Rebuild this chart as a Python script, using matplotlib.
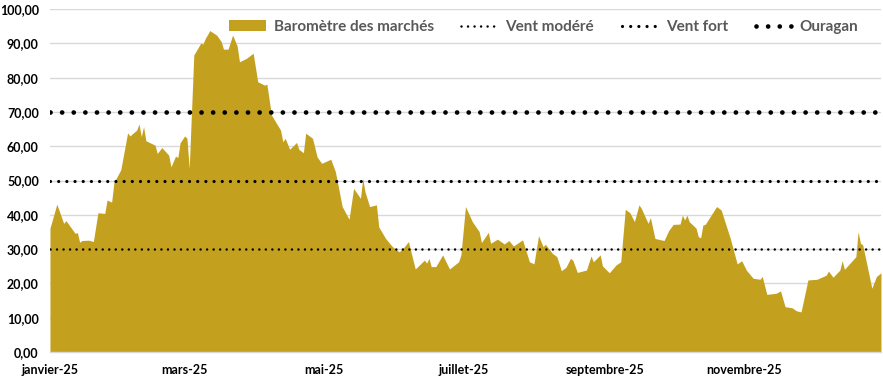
import matplotlib
matplotlib.use("Agg")
import matplotlib.pyplot as plt
from matplotlib.patches import Patch
from matplotlib.lines import Line2D
import pandas as pd

plt.rcParams['font.family'] = ['Lato', 'DejaVu Sans']

# ---- data ----
dates = [
    "2025-01-01", "2025-01-04", "2025-01-07", "2025-01-08", "2025-01-12", "2025-01-13",
    "2025-01-14", "2025-01-15", "2025-01-18", "2025-01-20", "2025-01-22", "2025-01-25",
    "2025-01-26", "2025-01-28", "2025-01-29", "2025-02-01", "2025-02-04", "2025-02-05",
    "2025-02-08", "2025-02-09", "2025-02-10", "2025-02-11", "2025-02-12", "2025-02-16",
    "2025-02-17", "2025-02-19", "2025-02-22", "2025-02-23", "2025-02-25", "2025-02-26",
    "2025-02-27", "2025-03-01", "2025-03-02", "2025-03-03", "2025-03-05", "2025-03-08",
    "2025-03-09", "2025-03-10", "2025-03-12", "2025-03-15", "2025-03-17", "2025-03-18",
    "2025-03-20", "2025-03-22", "2025-03-24", "2025-03-25", "2025-03-28", "2025-03-31",
    "2025-04-02", "2025-04-05", "2025-04-06", "2025-04-08", "2025-04-12", "2025-04-13",
    "2025-04-14", "2025-04-16", "2025-04-19", "2025-04-20", "2025-04-22", "2025-04-23",
    "2025-04-26", "2025-04-28", "2025-04-30", "2025-05-04", "2025-05-06", "2025-05-09",
    "2025-05-12", "2025-05-14", "2025-05-17", "2025-05-18", "2025-05-19", "2025-05-21",
    "2025-05-24", "2025-05-25", "2025-05-28", "2025-05-31", "2025-06-03", "2025-06-05",
    "2025-06-07", "2025-06-10", "2025-06-14", "2025-06-15", "2025-06-16", "2025-06-17",
    "2025-06-19", "2025-06-22", "2025-06-25", "2025-06-29", "2025-06-30", "2025-07-02",
    "2025-07-05", "2025-07-08", "2025-07-09", "2025-07-12", "2025-07-13", "2025-07-16",
    "2025-07-19", "2025-07-21", "2025-07-23", "2025-07-27", "2025-07-30", "2025-08-01",
    "2025-08-03", "2025-08-05", "2025-08-06", "2025-08-09", "2025-08-11", "2025-08-13",
    "2025-08-15", "2025-08-17", "2025-08-18", "2025-08-20", "2025-08-24", "2025-08-26",
    "2025-08-27", "2025-08-30", "2025-08-31", "2025-09-03", "2025-09-06", "2025-09-08",
    "2025-09-10", "2025-09-12", "2025-09-14", "2025-09-16", "2025-09-17", "2025-09-20",
    "2025-09-21", "2025-09-23", "2025-09-27", "2025-09-29", "2025-10-01", "2025-10-04",
    "2025-10-05", "2025-10-06", "2025-10-07", "2025-10-08", "2025-10-11", "2025-10-12",
    "2025-10-13", "2025-10-14", "2025-10-15", "2025-10-20", "2025-10-22", "2025-10-26",
    "2025-10-29", "2025-10-31", "2025-11-02", "2025-11-05", "2025-11-08", "2025-11-09",
    "2025-11-11", "2025-11-15", "2025-11-17", "2025-11-19", "2025-11-22", "2025-11-24",
    "2025-11-26", "2025-11-29", "2025-12-03", "2025-12-07", "2025-12-08", "2025-12-10",
    "2025-12-13", "2025-12-14", "2025-12-15", "2025-12-20", "2025-12-21", "2025-12-22",
    "2025-12-23", "2025-12-27", "2025-12-29", "2025-12-31",
]
barometre = [
    36.1, 43.1, 37.5, 38.3, 34.6, 34.8,
    32.0, 32.5, 32.6, 32.2, 40.6, 40.4,
    44.3, 43.7, 49.4, 53.1, 63.9, 63.0,
    64.7, 66.5, 62.8, 65.7, 61.6, 60.3,
    57.9, 59.6, 57.4, 54.0, 57.1, 56.7,
    61.0, 63.0, 62.3, 53.5, 86.6, 90.0,
    89.8, 91.4, 93.7, 92.4, 90.5, 88.3,
    88.3, 92.4, 89.2, 84.6, 85.6, 87.1,
    78.8, 77.8, 78.1, 69.1, 64.7, 61.3,
    62.3, 59.1, 61.1, 59.1, 58.1, 63.8,
    62.3, 56.9, 55.0, 56.2, 52.6, 42.4,
    38.7, 47.7, 44.8, 50.6, 46.7, 42.4,
    42.9, 36.5, 33.1, 30.7, 29.2, 30.5,
    32.2, 24.2, 26.8, 25.9, 27.3, 24.9,
    24.9, 28.3, 24.2, 26.3, 28.3, 42.4,
    38.0, 35.1, 31.9, 34.9, 31.7, 32.9,
    31.5, 32.5, 30.9, 32.7, 26.3, 25.7,
    33.9, 30.7, 31.4, 28.8, 27.8, 23.7,
    24.7, 27.3, 26.8, 23.2, 23.9, 28.0,
    26.3, 28.3, 25.1, 23.1, 25.4, 26.3,
    41.6, 40.6, 38.0, 42.9, 41.9, 37.5,
    39.2, 33.1, 32.5, 35.4, 37.2, 37.3,
    39.9, 38.5, 39.9, 38.0, 36.1, 33.6,
    33.3, 37.0, 37.2, 42.4, 41.4, 33.1,
    25.7, 26.6, 23.9, 21.5, 21.2, 22.0,
    16.8, 17.1, 17.8, 13.2, 12.9, 12.0,
    11.7, 21.0, 21.2, 22.4, 23.6, 21.8,
    23.9, 26.6, 24.1, 27.8, 35.1, 31.7,
    31.2, 18.6, 22.0, 23.1,
]
seuil_labels = ["Vent modéré", "Vent fort", "Ouragan"]
seuil_values = [30, 50, 70]
series_label = "Baromètre des marchés"
tick_dates = ["2025-01-01", "2025-03-01", "2025-05-01", "2025-07-01", "2025-09-01", "2025-11-01"]
tick_labels = ["janvier-25", "mars-25", "mai-25", "juillet-25", "septembre-25", "novembre-25"]
y_ticks = [0, 10, 20, 30, 40, 50, 60, 70, 80, 90, 100]

# ---- styling ----
gold = "#C4A01F"
dot_styles = [  # (linewidth pt, gap multiplier)
    (1.8, 2.6),
    (2.3, 2.55),
    (3.4, 2.45),
]

x = pd.to_datetime(dates)

fig = plt.figure(figsize=(8.83, 3.8), dpi=100)
ax = fig.add_axes([0.0566, 0.0737, 0.9411, 0.9026])

ax.set_ylim(0, 100)
ax.set_xlim(pd.Timestamp("2025-01-01"), pd.Timestamp("2025-12-31"))

for yv in y_ticks[1:]:
    ax.axhline(yv, color="#d9d9d9", lw=1.0, zorder=0)

ax.fill_between(x, barometre, 0, color=gold, lw=0, zorder=2)

handles = [Patch(facecolor=gold, edgecolor="none")]
for val, (lw, k) in zip(seuil_values, dot_styles):
    ls = (0, (0.01, k))
    ax.axhline(val, color="black", lw=lw, linestyle=ls,
               dash_capstyle="round", zorder=3)
    handles.append(Line2D([0], [0], color="black", lw=lw, linestyle=ls,
                          dash_capstyle="round"))

ax.set_yticks(y_ticks)
ax.set_yticklabels([f"{v:.2f}".replace(".", ",") for v in y_ticks],
                   fontsize=9, fontweight="bold", color="black")
ax.set_xticks(pd.to_datetime(tick_dates))
ax.set_xticklabels(tick_labels, fontsize=9, fontweight="bold", color="black")
ax.tick_params(axis="both", length=0)
ax.tick_params(axis="y", pad=8)
ax.tick_params(axis="x", pad=9)

for s in ["top", "right", "left"]:
    ax.spines[s].set_visible(False)
ax.spines["bottom"].set_color("#d9d9d9")
ax.spines["bottom"].set_linewidth(1.0)

leg = fig.legend(handles, [series_label] + seuil_labels, ncol=4, frameon=False,
                 loc="center", bbox_to_anchor=(0.616, 0.929),
                 prop={"family": "Lato", "weight": "bold", "size": 11},
                 handlelength=2.4, handletextpad=0.5, columnspacing=1.8)
for t in leg.get_texts():
    t.set_color("#595959")

fig.savefig("out.png", dpi=100)
